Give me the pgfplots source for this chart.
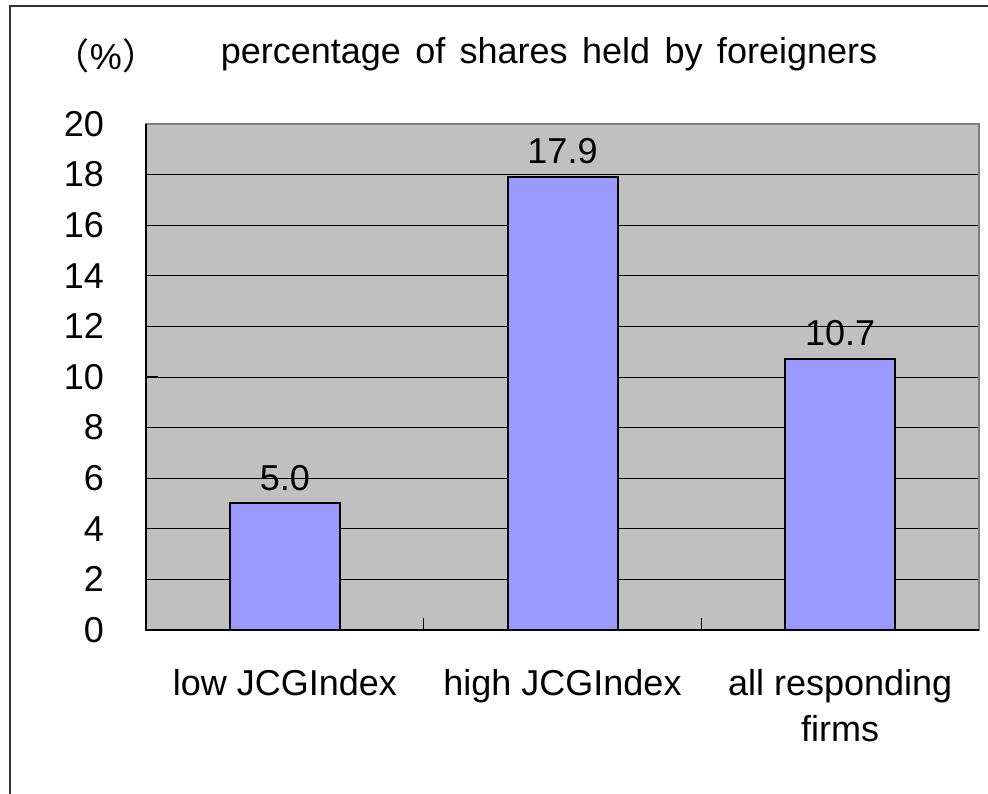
\documentclass[border=0pt]{standalone}
\usepackage{fontspec}
\setmainfont{Liberation Sans}
\newfontfamily\cjk{Noto Sans CJK SC}
\usepackage{pgfplots}
\pgfplotsset{compat=1.18}
\pgfplotsset{/pgf/number format/assume math mode=true}
\definecolor{barblue}{HTML}{9999FF}
\definecolor{plotgray}{HTML}{C0C0C0}
\definecolor{framegray}{HTML}{808080}

\begin{document}
\fontsize{36pt}{46pt}\selectfont
\begin{tikzpicture}
\useasboundingbox (0,0) rectangle (988pt,793pt);
% outer chart frame (cut off on the right and at the bottom)
\draw[line width=1.2pt, black!80] (10pt,-5pt) -- (10pt,787pt) -- (995pt,787pt);
\node[anchor=base] at (549pt,729pt) {\spaceskip=14.4pt percentage of shares held by foreigners};
\node[anchor=base] at (106pt,723pt) {{\cjk （}\%{\cjk ）}};
\begin{axis}[
    at={(146pt,163pt)}, anchor=south west,
    scale only axis,
    width=833pt, height=506pt,
    ybar,
    bar width=110pt,
    xmin=-0.5, xmax=2.5,
    ymin=0, ymax=20,
    ytick={0,2,...,20},
    xtick={-0.5,0.5,1.5,2.5},
    xticklabels={},
    extra x ticks={0,1,2},
    extra x tick labels={low JCGIndex,high JCGIndex,{all responding\\firms}},
    extra x tick style={major tick length=0pt},
    xticklabel style={align=center, anchor=north, yshift=-27pt},
    yticklabel style={anchor=east, xshift=-30pt},
    tick pos=left,
    tick align=inside,
    major tick length=12pt,
    tick style={black, line width=1pt},
    ymajorgrids,
    grid style={black, line width=0.8pt},
    axis background/.style={fill=plotgray},
    axis line style={framegray, line width=1.2pt},
    after end axis/.code={
        \draw[black, line width=1.5pt] (rel axis cs:0,1) -- (rel axis cs:0,0) -- (rel axis cs:1,0);
    },
]
\addplot[fill=barblue, draw=black, line width=2pt,
    nodes near coords={\pgfmathprintnumber[fixed,fixed zerofill,precision=1]{\pgfplotspointmeta}},
    every node near coord/.append style={black}]
coordinates {
    (0,5.0)
    (1,17.9)
    (2,10.7)
};
\end{axis}
\end{tikzpicture}
\end{document}
